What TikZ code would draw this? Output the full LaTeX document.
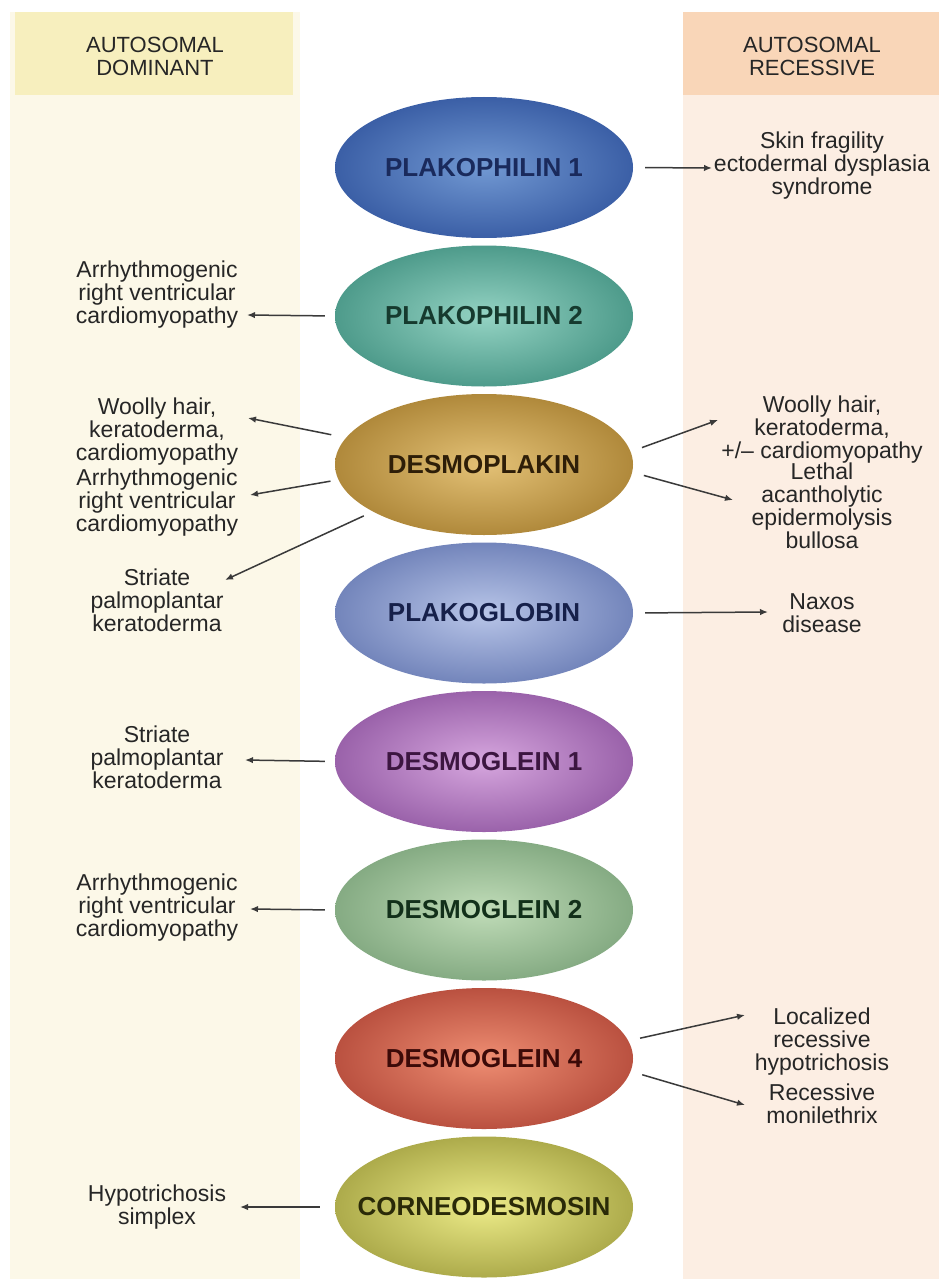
\documentclass[tikz,border=0pt]{standalone}
\usepackage{fontspec}
\setmainfont{Liberation Sans}
\usetikzlibrary{shapes.geometric,arrows.meta,calc}
\definecolor{lhead}{HTML}{F7EFBE}
\definecolor{lcol}{HTML}{FCF8E8}
\definecolor{rhead}{HTML}{F9D6B8}
\definecolor{rcol}{HTML}{FCEEE3}
\definecolor{arrcol}{HTML}{3A3A3A}
\definecolor{txtcol}{HTML}{262626}
% protein colours: inner / outer / text
\definecolor{pAi}{HTML}{7198D2}\definecolor{pAo}{HTML}{3B5FA6}\definecolor{pAt}{HTML}{1A2A5C}
\definecolor{pBi}{HTML}{94D3C3}\definecolor{pBo}{HTML}{4E9B8B}\definecolor{pBt}{HTML}{163A2E}
\definecolor{pCi}{HTML}{E3C176}\definecolor{pCo}{HTML}{B0893B}\definecolor{pCt}{HTML}{2E1E08}
\definecolor{pDi}{HTML}{B8C5E8}\definecolor{pDo}{HTML}{7385BB}\definecolor{pDt}{HTML}{16204A}
\definecolor{pEi}{HTML}{D6A6DE}\definecolor{pEo}{HTML}{9A62AA}\definecolor{pEt}{HTML}{3C1640}
\definecolor{pFi}{HTML}{C0DCB8}\definecolor{pFo}{HTML}{85AB83}\definecolor{pFt}{HTML}{12301A}
\definecolor{pGi}{HTML}{EE8D72}\definecolor{pGo}{HTML}{BA5140}\definecolor{pGt}{HTML}{3C0A08}
\definecolor{pHi}{HTML}{ECEB88}\definecolor{pHo}{HTML}{ADAB4B}\definecolor{pHt}{HTML}{2A2A08}
\begin{document}
\begin{tikzpicture}[x=1pt,y=-1pt,
  prot/.style n args={3}{ellipse, minimum width=298pt, minimum height=141pt,
     inner xsep=-40pt, inner ysep=0pt,
     shade, inner color=#1, outer color=#2, text=#3,
     font=\fontsize{26}{28}\selectfont\bfseries},
  dis/.style={align=center, font=\fontsize{23}{23}\selectfont, text=txtcol, inner sep=4pt},
  head/.style={align=center, font=\fontsize{22}{23}\selectfont, text=txtcol},
  arr/.style={-{Latex[length=8pt,width=6.5pt]}, line width=1.5pt, draw=arrcol}
]
\useasboundingbox (0,0) rectangle (939,1279);
\fill[white] (0,0) rectangle (939,1279);
% columns
\fill[lcol] (10,12) rectangle (300,1279);
\fill[lhead] (15,12) rectangle (293,95);
\fill[rcol] (683,12) rectangle (939,1279);
\fill[rhead] (683,12) rectangle (939,95);
\node[head] (hd) at (155,56) {AUTOSOMAL\\DOMINANT};
\node[head] (hr) at (812,56) {AUTOSOMAL\\RECESSIVE};

% proteins
\node[prot={pAi}{pAo}{pAt}] (pkp1) at (484,167.5) {PLAKOPHILIN 1};
\node[prot={pBi}{pBo}{pBt}] (pkp2) at (484,316) {PLAKOPHILIN 2};
\node[prot={pCi}{pCo}{pCt}] (dsp)  at (484,464.5) {DESMOPLAKIN};
\node[prot={pDi}{pDo}{pDt}] (jup)  at (484,613) {PLAKOGLOBIN};
\node[prot={pEi}{pEo}{pEt}] (dsg1) at (484,761.5) {DESMOGLEIN 1};
\node[prot={pFi}{pFo}{pFt}] (dsg2) at (484,910) {DESMOGLEIN 2};
\node[prot={pGi}{pGo}{pGt}] (dsg4) at (484,1058.5) {DESMOGLEIN 4};
\node[prot={pHi}{pHo}{pHt}] (cdsn) at (484,1207) {CORNEODESMOSIN};

% left labels
\node[dis] (l1) at (157,295) {Arrhythmogenic\\right ventricular\\cardiomyopathy};
\node[dis] (l2) at (157,432) {Woolly hair,\\keratoderma,\\cardiomyopathy};
\node[dis] (l3) at (157,503) {Arrhythmogenic\\right ventricular\\cardiomyopathy};
\node[dis] (l4) at (157,600) {Striate\\palmoplantar\\keratoderma};
\node[dis] (l5) at (157,757) {Striate\\palmoplantar\\keratoderma};
\node[dis] (l6) at (157,908) {Arrhythmogenic\\right ventricular\\cardiomyopathy};
\node[dis] (l7) at (157,1207) {Hypotrichosis\\simplex};

% right labels
\node[dis] (r1) at (822,166) {Skin fragility\\ectodermal dysplasia\\syndrome};
\node[dis] (r2) at (822,430) {Woolly hair,\\keratoderma,\\+/-- cardiomyopathy};
\node[dis] (r3) at (822,506) {Lethal\\acantholytic\\epidermolysis\\bullosa};
\node[dis] (r4) at (822,613) {Naxos\\disease};
\node[dis] (r5) at (822,1042) {Localized\\recessive\\hypotrichosis};
\node[dis] (r6) at (822,1104) {Recessive\\monilethrix};

% arrow tips
\coordinate (tL1) at (247,315);
\coordinate (tL2) at (248,418);
\coordinate (tL3) at (250,495);
\coordinate (tL4) at (225,580);
\coordinate (tL5) at (245,760);
\coordinate (tL6) at (250,909);
\coordinate (tL7) at (240,1207);
\coordinate (tR1) at (712,168);
\coordinate (tR2) at (718,420);
\coordinate (tR3) at (733,500);
\coordinate (tR4) at (768,612);
\coordinate (tR5) at (745,1015);
\coordinate (tR6) at (745,1105);

% connectors
\draw[arr, shorten <=10pt] (pkp2.west) -- (tL1);
\draw[arr, shorten <=15pt] (dsp.169) -- (tL2);
\draw[arr, shorten <=8pt]  (dsp.186) -- (tL3);
\draw[arr, shorten <=10pt] (dsp.203) -- (tL4);
\draw[arr, shorten <=10pt] (dsg1.west) -- (tL5);
\draw[arr, shorten <=10pt] (dsg2.west) -- (tL6);
\draw[arr, shorten <=15pt] (cdsn.west) -- (tL7);
\draw[arr, shorten <=12pt] (pkp1.east) -- (tR1);
\draw[arr, shorten <=12pt] (dsp.5) -- (tR2);
\draw[arr, shorten <=12pt] (dsp.-3) -- (tR3);
\draw[arr, shorten <=12pt] (jup.east) -- (tR4);
\draw[arr, shorten <=12pt] (dsg4.7) -- (tR5);
\draw[arr, shorten <=12pt] (dsg4.-5) -- (tR6);
\end{tikzpicture}
\end{document}
